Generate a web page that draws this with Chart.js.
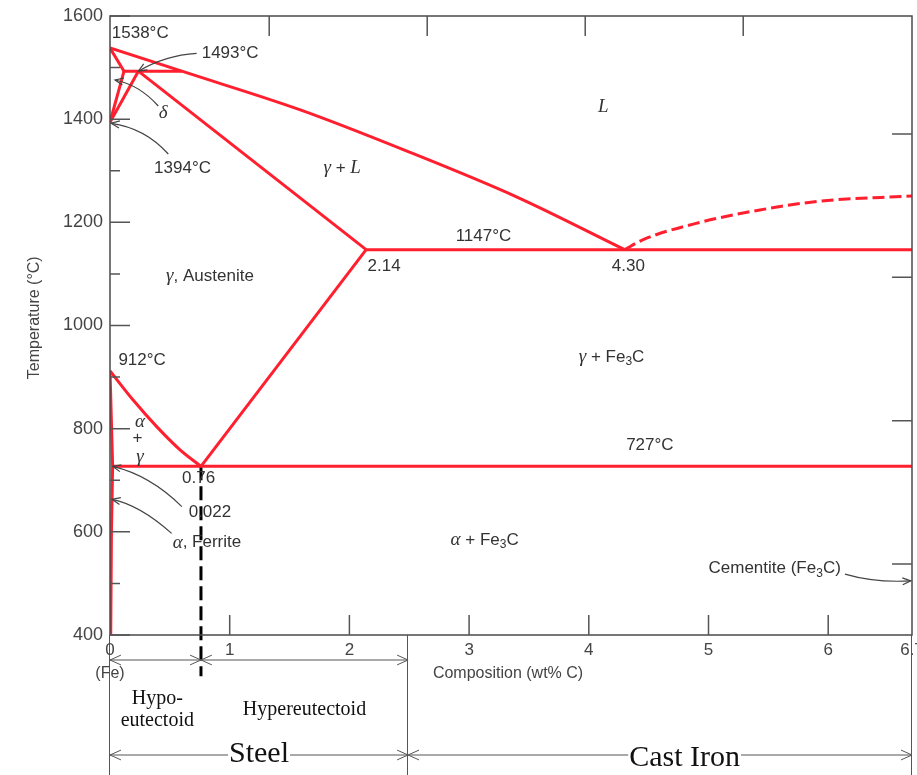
<!DOCTYPE html>
<html>
<head>
<meta charset="utf-8">
<script src="https://cdn.jsdelivr.net/npm/chart.js@4.4.1/dist/chart.umd.min.js"></script>
<style>
  html, body { margin: 0; padding: 0; background: #fff; }
  #wrap { width: 917px; height: 775px; position: relative; }
</style>
</head>
<body>
<div id="wrap"><canvas id="c"></canvas></div>
<script>
// Iron–iron carbide phase diagram: composition (wt% C) vs temperature (°C)

// Phase boundaries as [wt% C, °C] pairs
const deltaLiquidus     = [[0, 1538], [0.6, 1493]];
const liquidus          = [[0.6, 1493], [1.59, 1418], [2.46, 1340], [3.4, 1249], [4.3, 1147]];
const deltaSolidus      = [[0, 1538], [0.117, 1493]];
const peritecticLine    = [[0.117, 1493], [0.6, 1493]];
const deltaSolvus       = [[0.117, 1493], [0, 1394]];
const gammaDeltaLine    = [[0.237, 1493], [0, 1394]];
const gammaSolidus      = [[0.237, 1493], [2.14, 1147]];
const eutecticLine      = [[2.14, 1147], [6.7, 1147]];
const acmLine           = [[2.14, 1147], [0.76, 727]];
const a3Line            = [[0, 912], [0.195, 855], [0.39, 804], [0.585, 759], [0.76, 727]];
const ferriteSolvus     = [[0, 912], [0.022, 727], [0.012, 600], [0.006, 400]];
const eutectoidLine     = [[0.022, 727], [6.7, 727]];
const cementiteLiquidus = [[4.3, 1147], [4.45, 1166], [4.93, 1200], [5.43, 1224], [5.93, 1241], [6.7, 1251]];
const eutectoidDivider  = [[0.76, 727], [0.76, 320]];

// Axis ticks
const tempTicks      = [400, 600, 800, 1000, 1200, 1400, 1600];
const tempMinorTicks = [500, 700, 900, 1100, 1300, 1500];
const compTicks      = [0, 1, 2, 3, 4, 5, 6, 6.7];
const compTickMarks  = [1, 2, 3, 4, 5, 6];
const topTickMarks   = [1.33, 2.65, 3.97, 5.29];
const fahrenheitTicks = [1000, 1500, 2000, 2500];

// Steel / cast iron ranges (wt% C)
const steelRange    = [0, 2.49];
const castIronRange = [2.49, 6.7];

const RED = '#ff1f2e';
const SANS = '"Liberation Sans", Arial, Helvetica, sans-serif';
const SERIF = '"Liberation Serif", "Times New Roman", serif';
const F_LAB = '17px ' + SANS;
const F_GR = 'italic 19px ' + SERIF;
const F_SUB = '12px ' + SANS;

const pts = arr => arr.map(([x, y]) => ({ x, y }));

function phaseLine(arr, extra) {
  return Object.assign({
    data: pts(arr), showLine: true, borderColor: RED, backgroundColor: RED,
    borderWidth: 3, pointRadius: 0, tension: 0, fill: false
  }, extra || {});
}

// Region and point labels, placed in data coordinates
const labels = [
  { at: [0.015, 1567], align: 'left',   segs: [{ t: '1538°C', f: F_LAB }] },
  { at: [0.766, 1528], align: 'left',   segs: [{ t: '1493°C', f: F_LAB }] },
  { at: [0.445, 1411], align: 'center', segs: [{ t: 'δ', f: F_GR }] },
  { at: [0.606, 1305], align: 'center', segs: [{ t: '1394°C', f: F_LAB }] },
  { at: [4.12, 1424],  align: 'center', segs: [{ t: 'L', f: F_GR }] },
  { at: [1.94, 1305],  align: 'center', segs: [{ t: 'γ', f: F_GR }, { t: ' + ', f: F_LAB }, { t: 'L', f: F_GR }] },
  { at: [3.12, 1173],  align: 'center', segs: [{ t: '1147°C', f: F_LAB }] },
  { at: [2.29, 1115],  align: 'center', segs: [{ t: '2.14', f: F_LAB }] },
  { at: [4.33, 1115],  align: 'center', segs: [{ t: '4.30', f: F_LAB }] },
  { at: [0.835, 1096], align: 'center', segs: [{ t: 'γ', f: F_GR }, { t: ', Austenite', f: F_LAB }] },
  { at: [0.07, 933],   align: 'left',   segs: [{ t: '912°C', f: F_LAB }] },
  { at: [4.19, 939],   align: 'center', segs: [{ t: 'γ', f: F_GR }, { t: ' + Fe', f: F_LAB }, { t: '3', f: F_SUB, dy: 5 }, { t: 'C', f: F_LAB }] },
  { at: [0.25, 813],   align: 'center', segs: [{ t: 'α', f: F_GR }] },
  { at: [0.23, 782],   align: 'center', segs: [{ t: '+', f: F_LAB }] },
  { at: [0.25, 746],   align: 'center', segs: [{ t: 'γ', f: F_GR }] },
  { at: [4.51, 768],   align: 'center', segs: [{ t: '727°C', f: F_LAB }] },
  { at: [0.74, 704],   align: 'center', segs: [{ t: '0.76', f: F_LAB }] },
  { at: [0.835, 637],  align: 'center', segs: [{ t: '0.022', f: F_LAB }] },
  { at: [0.81, 579],   align: 'center', segs: [{ t: 'α', f: F_GR }, { t: ', Ferrite', f: F_LAB }] },
  { at: [3.13, 584],   align: 'center', segs: [{ t: 'α', f: F_GR }, { t: ' + Fe', f: F_LAB }, { t: '3', f: F_SUB, dy: 5 }, { t: 'C', f: F_LAB }] },
  { at: [5.0, 529],    align: 'left',   segs: [{ t: 'Cementite (Fe', f: F_LAB }, { t: '3', f: F_SUB, dy: 5 }, { t: 'C)', f: F_LAB }] }
];

// Curved pointer arrows: start, control point, tip (data coordinates)
const callouts = [
  { from: [0.724, 1527.7], ctrl: [0.46, 1524],  to: [0.237, 1493] },
  { from: [0.403, 1425.5], ctrl: [0.25, 1466],  to: [0.042, 1476] },
  { from: [0.487, 1332.5], ctrl: [0.292, 1383], to: [0.01, 1392] },
  { from: [0.6, 649],      ctrl: [0.334, 710],  to: [0.022, 727] },
  { from: [0.515, 597],    ctrl: [0.25, 652],   to: [0.017, 663] },
  { from: [6.14, 518],     ctrl: [6.39, 501],   to: [6.69, 505] }
];

function drawRich(ctx, segs, x, y, align) {
  let w = 0;
  for (const s of segs) { ctx.font = s.f; s.w = ctx.measureText(s.t).width; w += s.w; }
  let cx = align === 'center' ? x - w / 2 : (align === 'right' ? x - w : x);
  ctx.textAlign = 'left';
  for (const s of segs) { ctx.font = s.f; ctx.fillText(s.t, cx, y + (s.dy || 0)); cx += s.w; }
}

function arrowHead(ctx, tx, ty, fx, fy, len, ang) {
  const a = Math.atan2(ty - fy, tx - fx);
  ctx.beginPath();
  ctx.moveTo(tx - len * Math.cos(a - ang), ty - len * Math.sin(a - ang));
  ctx.lineTo(tx, ty);
  ctx.lineTo(tx - len * Math.cos(a + ang), ty - len * Math.sin(a + ang));
  ctx.stroke();
}

// Horizontal double arrow with an optional text gap
function spanArrow(ctx, x1, x2, y, gap) {
  ctx.beginPath();
  if (gap) {
    ctx.moveTo(x1, y); ctx.lineTo(gap[0], y);
    ctx.moveTo(gap[1], y); ctx.lineTo(x2, y);
  } else {
    ctx.moveTo(x1, y); ctx.lineTo(x2, y);
  }
  ctx.stroke();
  arrowHead(ctx, x1, y, x1 + 10, y, 12, 0.42);
  arrowHead(ctx, x2, y, x2 - 10, y, 12, 0.42);
}

const decorPlugin = {
  id: 'decor',
  afterDraw(chart) {
    const ctx = chart.ctx;
    const xs = chart.scales.x, ys = chart.scales.y;
    const X = v => xs.getPixelForValue(v), Y = v => ys.getPixelForValue(v);
    const ca = chart.chartArea;
    ctx.save();

    // Frame
    ctx.strokeStyle = '#4a4a4a';
    ctx.lineWidth = 1.5;
    ctx.strokeRect(ca.left, ca.top, ca.right - ca.left, ca.bottom - ca.top);

    // Inward tick marks
    ctx.strokeStyle = '#555';
    ctx.lineWidth = 1.5;
    ctx.beginPath();
    tempTicks.forEach(t => { ctx.moveTo(ca.left, Y(t)); ctx.lineTo(ca.left + 20, Y(t)); });
    tempMinorTicks.forEach(t => { ctx.moveTo(ca.left, Y(t)); ctx.lineTo(ca.left + 10, Y(t)); });
    compTickMarks.forEach(c => { ctx.moveTo(X(c), ca.bottom); ctx.lineTo(X(c), ca.bottom - 20); });
    topTickMarks.forEach(c => { ctx.moveTo(X(c), ca.top); ctx.lineTo(X(c), ca.top + 20); });
    fahrenheitTicks.forEach(f => {
      const c = (f - 32) * 5 / 9;
      ctx.moveTo(ca.right, Y(c)); ctx.lineTo(ca.right - 20, Y(c));
    });
    ctx.stroke();

    // Tick labels
    ctx.fillStyle = '#444';
    ctx.textBaseline = 'middle';
    ctx.font = '18px ' + SANS;
    ctx.textAlign = 'right';
    tempTicks.forEach(t => ctx.fillText(String(t), ca.left - 7, Y(t)));
    ctx.font = '17px ' + SANS;
    ctx.textAlign = 'center';
    compTicks.forEach(c => ctx.fillText(String(c), X(c), ca.bottom + 15));
    ctx.font = '16px ' + SANS;
    ctx.fillText('(Fe)', X(0), ca.bottom + 39);
    ctx.fillText('Composition (wt% C)', X(3.325), ca.bottom + 39);

    // Temperature axis title
    ctx.save();
    ctx.translate(ca.left - 75, Y(1015));
    ctx.rotate(-Math.PI / 2);
    ctx.font = '16px ' + SANS;
    ctx.fillText('Temperature (°C)', 0, 0);
    ctx.restore();

    // Region labels
    ctx.fillStyle = '#333';
    labels.forEach(l => drawRich(ctx, l.segs, X(l.at[0]), Y(l.at[1]), l.align));

    // Pointer arrows
    ctx.strokeStyle = '#444';
    ctx.lineWidth = 1.2;
    callouts.forEach(c => {
      const fx = X(c.from[0]), fy = Y(c.from[1]);
      const cx = X(c.ctrl[0]), cy = Y(c.ctrl[1]);
      const tx = X(c.to[0]), ty = Y(c.to[1]);
      ctx.beginPath();
      ctx.moveTo(fx, fy);
      ctx.quadraticCurveTo(cx, cy, tx, ty);
      ctx.stroke();
      arrowHead(ctx, tx, ty, cx, cy, 9, 0.4);
    });

    // Steel / cast iron brackets below the axis
    const bottomEdge = chart.height;
    ctx.strokeStyle = '#555';
    ctx.lineWidth = 1;
    ctx.beginPath();
    [steelRange[0], steelRange[1], castIronRange[1]].forEach(v => {
      const x = Math.round(X(v)) - 0.5;
      ctx.moveTo(x, ca.bottom); ctx.lineTo(x, bottomEdge);
    });
    ctx.stroke();

    const rowA = ca.bottom + 25;
    spanArrow(ctx, X(0), X(0.76), rowA);
    spanArrow(ctx, X(0.76), X(steelRange[1]), rowA);

    ctx.fillStyle = '#111';
    ctx.textAlign = 'center';
    ctx.textBaseline = 'alphabetic';
    ctx.font = '20px ' + SERIF;
    ctx.fillText('Hypo-', X(0.395), ca.bottom + 69);
    ctx.fillText('eutectoid', X(0.395), ca.bottom + 91);
    ctx.fillText('Hypereutectoid', X(1.625), ca.bottom + 80);

    const rowB = ca.bottom + 120;
    ctx.font = '30px ' + SERIF;
    const steelX = X((steelRange[0] + steelRange[1]) / 2);
    const steelW = ctx.measureText('Steel').width;
    spanArrow(ctx, X(steelRange[0]), X(steelRange[1]), rowB, [steelX - steelW / 2 - 1, steelX + steelW / 2 + 1]);
    ctx.fillText('Steel', steelX, ca.bottom + 127);

    const castX = X(4.8);
    const castW = ctx.measureText('Cast Iron').width;
    spanArrow(ctx, X(castIronRange[0]), X(castIronRange[1]), rowB, [castX - castW / 2 - 1, castX + castW / 2 + 1]);
    ctx.fillText('Cast Iron', castX, ca.bottom + 131);

    ctx.restore();
  }
};

new Chart(document.getElementById('c'), {
  type: 'scatter',
  data: {
    datasets: [
      phaseLine(deltaLiquidus),
      phaseLine(liquidus, { cubicInterpolationMode: 'monotone' }),
      phaseLine(deltaSolidus),
      phaseLine(peritecticLine),
      phaseLine(deltaSolvus),
      phaseLine(gammaDeltaLine),
      phaseLine(gammaSolidus),
      phaseLine(eutecticLine),
      phaseLine(acmLine),
      phaseLine(a3Line, { cubicInterpolationMode: 'monotone' }),
      phaseLine(ferriteSolvus),
      phaseLine(eutectoidLine),
      phaseLine(cementiteLiquidus, { cubicInterpolationMode: 'monotone', borderDash: [12, 5] }),
      phaseLine(eutectoidDivider, { borderColor: '#000', borderWidth: 3, borderDash: [14, 6], clip: false })
    ]
  },
  options: {
    responsive: true,
    maintainAspectRatio: false,
    animation: false,
    layout: { padding: { left: 110, right: 5, top: 16, bottom: 140 } },
    scales: {
      x: { type: 'linear', min: 0, max: 6.7, display: false },
      y: { type: 'linear', min: 400, max: 1600, display: false }
    },
    plugins: { legend: { display: false }, tooltip: { enabled: false } },
    events: []
  },
  plugins: [decorPlugin]
});
</script>
</body>
</html>
